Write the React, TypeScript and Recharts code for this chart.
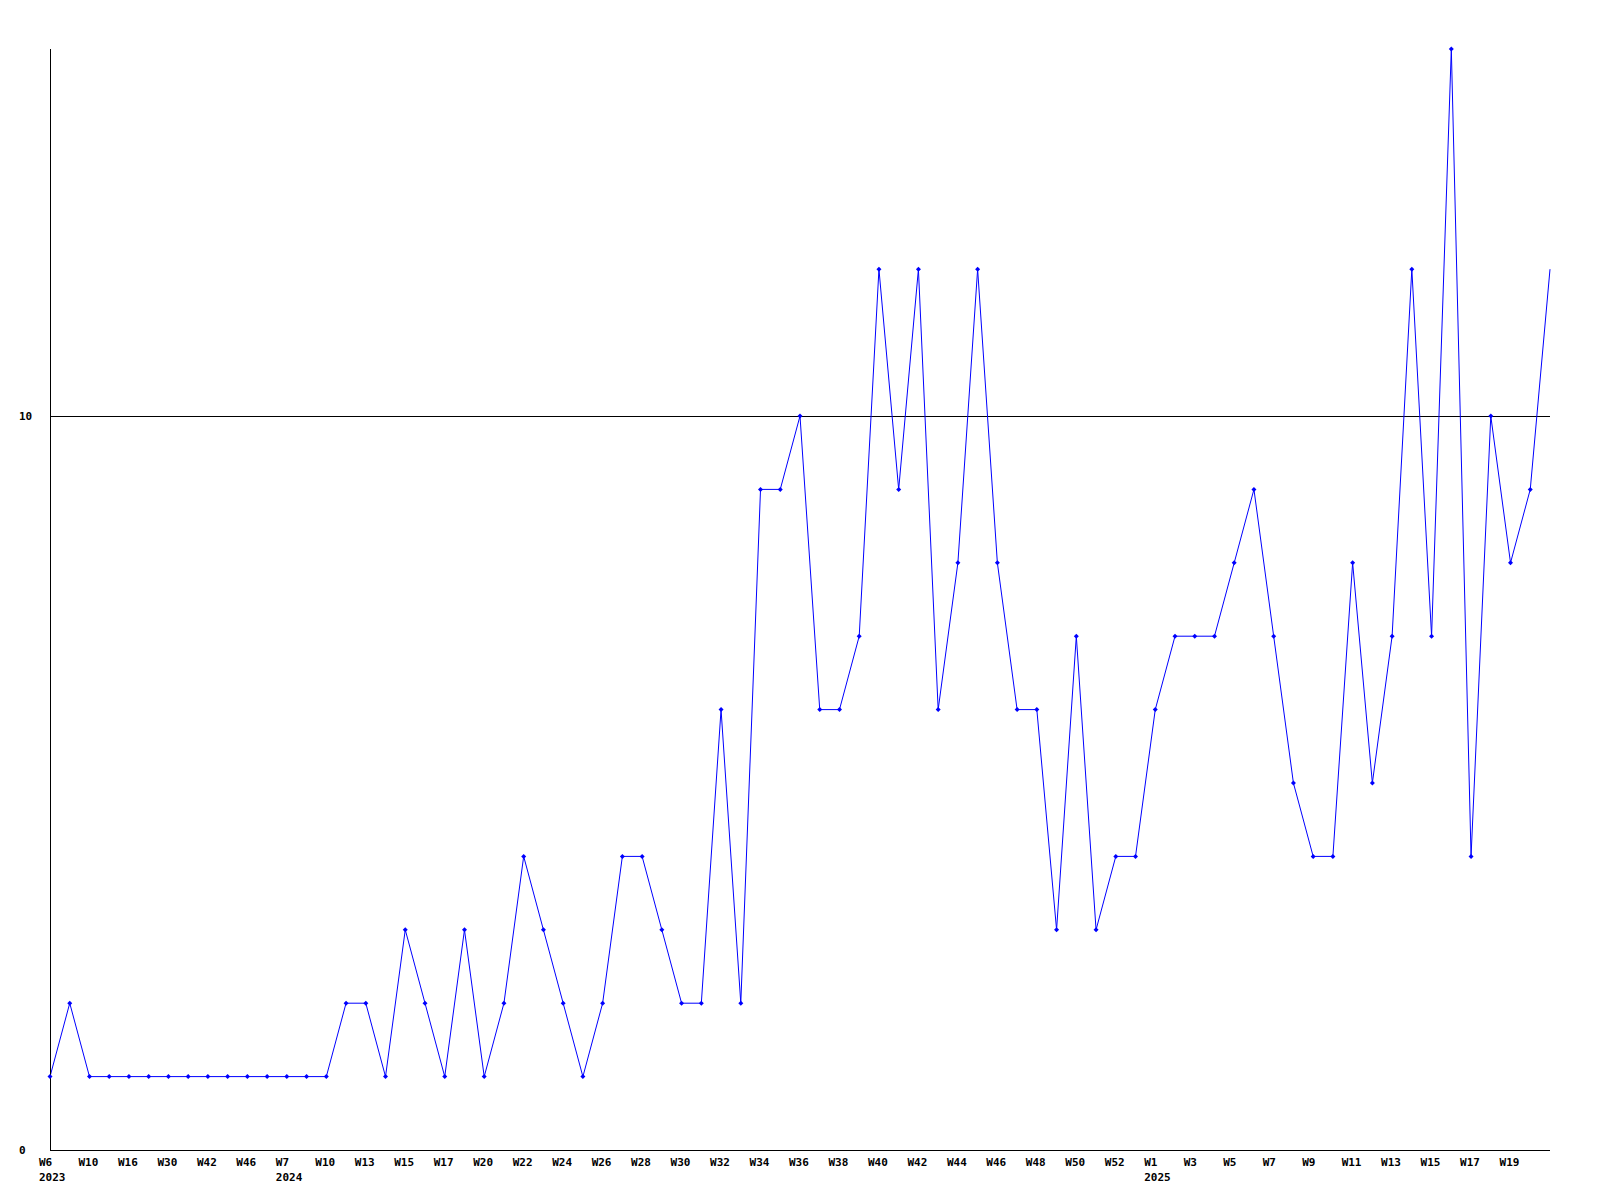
import React from "react";
import { LineChart, Line, XAxis, YAxis, ReferenceLine } from "recharts";

const weeks = [
  "W6", "W8", "W10", "W12", "W16", "W20", "W30", "W35", "W42", "W44", "W46", "W50",
  "W7", "W8", "W10", "W11", "W13", "W14", "W15", "W16", "W17", "W18", "W20", "W21",
  "W22", "W23", "W24", "W25", "W26", "W27", "W28", "W29", "W30", "W31", "W32", "W33",
  "W34", "W35", "W36", "W37", "W38", "W39", "W40", "W41", "W42", "W43", "W44", "W45",
  "W46", "W47", "W48", "W49", "W50", "W51", "W52", "W53",
  "W1", "W2", "W3", "W4", "W5", "W6", "W7", "W8", "W9", "W10", "W11", "W12", "W13",
  "W14", "W15", "W16", "W17", "W18", "W19", "W20", "W21",
];

const years = [
  "2023", "", "", "", "", "", "", "", "", "", "", "",
  "2024", "", "", "", "", "", "", "", "", "", "", "",
  "", "", "", "", "", "", "", "", "", "", "", "",
  "", "", "", "", "", "", "", "", "", "", "", "",
  "", "", "", "", "", "", "", "",
  "2025", "", "", "", "", "", "", "", "", "", "", "", "",
  "", "", "", "", "", "", "", "",
];

const values = [
  1, 2, 1, 1, 1, 1, 1, 1, 1, 1, 1, 1,
  1, 1, 1, 2, 2, 1, 3, 2, 1, 3, 1, 2,
  4, 3, 2, 1, 2, 4, 4, 3, 2, 2, 6, 2,
  9, 9, 10, 6, 6, 7, 12, 9, 12, 6, 8, 12,
  8, 6, 6, 3, 7, 3, 4, 4,
  6, 7, 7, 7, 8, 9, 7, 5, 4, 4, 8, 5, 7,
  12, 7, 15, 4, 10, 8, 9, 12,
];

const yTicks = [0, 10];

const data = values.map((v, i) => ({
  key: `${i}-${weeks[i]}`,
  value: v,
}));

const FONT = "'DejaVu Sans Mono', monospace";

const XTick = (props: any) => {
  const { x, y, payload } = props;
  const i = payload.index;
  if (i === values.length - 1) return <g />;
  return (
    <g>
      <text
        x={x - 11}
        y={y + 8}
        textAnchor="start"
        fontFamily={FONT}
        fontWeight="bold"
        fontSize={11}
        fill="#000"
      >
        {weeks[i]}
      </text>
      {years[i] ? (
        <text
          x={x - 11}
          y={y + 23}
          textAnchor="start"
          fontFamily={FONT}
          fontWeight="bold"
          fontSize={11}
          fill="#000"
        >
          {years[i]}
        </text>
      ) : null}
    </g>
  );
};

const YTick = (props: any) => {
  const { y, payload } = props;
  return (
    <text
      x={19}
      y={y + 4}
      textAnchor="start"
      fontFamily={FONT}
      fontWeight="bold"
      fontSize={11}
      fill="#000"
    >
      {payload.value}
    </text>
  );
};

const Dot = (props: any) => {
  const { cx, cy, index } = props;
  if (index === values.length - 1 || cx == null || cy == null) return <g key={`d${index}`} />;
  return (
    <path
      key={`d${index}`}
      d={`M${cx},${cy - 2.5} L${cx + 2.5},${cy} L${cx},${cy + 2.5} L${cx - 2.5},${cy} Z`}
      fill="#0000ff"
      stroke="none"
    />
  );
};

export default function App() {
  return (
    <div style={{ position: "absolute", left: 0, top: 0, width: 1600, height: 1200, background: "#fff" }}>
      <LineChart
        width={1600}
        height={1200}
        data={data}
        margin={{ top: 49, right: 50, bottom: 0, left: 0 }}
      >
        <XAxis
          dataKey="key"
          interval={1}
          tickLine={false}
          axisLine={{ stroke: "#000", strokeWidth: 1, shapeRendering: "crispEdges" }}
          height={50}
          tick={<XTick />}
          padding={{ left: 0, right: 0 }}
        />
        <YAxis
          domain={[0, 15]}
          ticks={yTicks}
          width={50}
          tickLine={false}
          axisLine={{ stroke: "#000", strokeWidth: 1, shapeRendering: "crispEdges" }}
          tick={<YTick />}
        />
        <ReferenceLine y={10} stroke="#000" strokeWidth={1} shapeRendering="crispEdges" />
        <Line
          type="linear"
          dataKey="value"
          stroke="#0000ff"
          strokeWidth={1}
          dot={<Dot />}
          activeDot={false}
          isAnimationActive={false}
        />
      </LineChart>
    </div>
  );
}
